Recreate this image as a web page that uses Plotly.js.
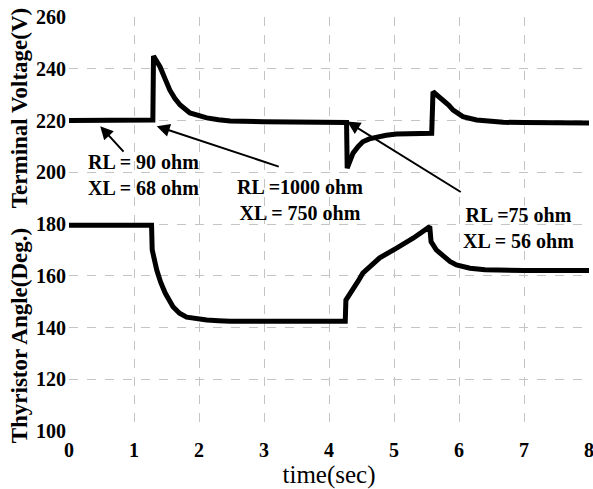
<!DOCTYPE html>
<html>
<head>
<meta charset="utf-8">
<script src="https://cdn.plot.ly/plotly-3.0.1.min.js"></script>
<style>html,body{margin:0;padding:0;background:#fff;}#chart{width:593px;height:489px;}</style>
</head>
<body>
<div id="chart"></div>
<script>
// Terminal voltage (V) vs time (sec)
var timeVoltage = [0, 1.29, 1.30, 1.35, 1.4, 1.48, 1.55, 1.63, 1.71, 1.86, 2.0, 2.12, 2.3, 2.48, 3.0, 3.5, 4.0, 4.27, 4.28, 4.32, 4.37, 4.45, 4.52, 4.62, 4.74, 4.88, 5.04, 5.3, 5.58, 5.6, 5.68, 5.76, 5.84, 5.91, 6.06, 6.27, 6.5, 6.68, 7, 7.5, 8];
var voltage = [220, 220.2, 244.9, 243, 240.8, 236, 231.8, 228.5, 226, 222.9, 221.8, 221, 220.3, 219.8, 219.5, 219.4, 219.3, 219.2, 201.6, 204.5, 207.4, 210, 211.8, 212.9, 213.7, 214.3, 214.8, 215, 215.1, 231.1, 229.5, 228, 226, 224, 221.5, 220.2, 219.6, 219.3, 219.2, 219.1, 219];

// Thyristor angle (Deg.) vs time (sec)
var timeAngle = [0, 1.27, 1.28, 1.32, 1.35, 1.41, 1.48, 1.6, 1.7, 1.81, 2.0, 2.12, 2.3, 2.48, 3.0, 3.5, 4.0, 4.25, 4.26, 4.30, 4.37, 4.45, 4.52, 4.65, 4.78, 5.04, 5.3, 5.55, 5.57, 5.65, 5.76, 5.86, 5.96, 6.17, 6.4, 7, 8];
var angle = [179.5, 179.5, 170, 165, 162.2, 157.5, 153.3, 148, 145.5, 144, 143.2, 142.9, 142.6, 142.4, 142.4, 142.4, 142.4, 142.4, 150.6, 152, 154.5, 158, 161, 164, 166.9, 170.7, 174.6, 179, 173.2, 170, 167.4, 165.5, 164.2, 162.9, 162.3, 162, 162];

var xTicks = [0, 1, 2, 3, 4, 5, 6, 7, 8];
var yTicks = [100, 120, 140, 160, 180, 200, 220, 240, 260];

// Annotation labels: text, text position, arrow tail, arrow head
var loadLabels = ["RL = 90 ohm<br>XL = 68 ohm", "RL =1000 ohm<br>XL = 750 ohm", "RL =75 ohm<br>XL = 56 ohm"];
var labelX = [1.14, 3.55, 6.92];
var labelY = [198.9, 189.3, 178.5];
var arrowTailX = [0.86, 3.25, 6.05];
var arrowTailY = [207.4, 202, 192];
var arrowHeadX = [0.48, 1.35, 4.28];
var arrowHeadY = [217.8, 217.8, 219.6];

var serif = "Liberation Serif, Times New Roman, serif";

var traces = [
  {x: timeVoltage, y: voltage, mode: "lines", line: {color: "#000", width: 5}, hoverinfo: "skip"},
  {x: timeAngle, y: angle, mode: "lines", line: {color: "#000", width: 5}, hoverinfo: "skip"}
];

var annotations = [];
for (var i = 0; i < loadLabels.length; i++) {
  annotations.push({
    x: labelX[i], y: labelY[i], xref: "x", yref: "y", text: "<b>" + loadLabels[i] + "</b>",
    showarrow: false, font: {family: serif, size: 20, color: "#000"}, align: "center"
  });
  annotations.push({
    x: arrowHeadX[i], y: arrowHeadY[i], ax: arrowTailX[i], ay: arrowTailY[i],
    xref: "x", yref: "y", axref: "x", ayref: "y", text: "", showarrow: true,
    arrowhead: 2, arrowsize: 1.3, arrowwidth: 2, arrowcolor: "#000"
  });
}
annotations.push({
  xref: "paper", yref: "y", x: -0.096, y: 224.8, text: "<b>Terminal Voltage(V)</b>",
  textangle: -90, showarrow: false, font: {family: serif, size: 23, color: "#000"}, xanchor: "center", yanchor: "middle"
});
annotations.push({
  xref: "paper", yref: "y", x: -0.096, y: 137, text: "<b>Thyristor Angle(Deg.)</b>",
  textangle: -90, showarrow: false, font: {family: serif, size: 23, color: "#000"}, xanchor: "center", yanchor: "middle"
});

var layout = {
  width: 593, height: 489,
  margin: {l: 69, r: 4, t: 17, b: 58},
  paper_bgcolor: "#fff", plot_bgcolor: "#fff",
  showlegend: false,
  xaxis: {
    range: [0, 8], tickvals: xTicks, ticktext: xTicks.map(function(v){return "<b>" + v + "</b>";}),
    showgrid: true, gridcolor: "#c4c4c4", griddash: "dash", gridwidth: 1,
    zeroline: false, showline: false, ticks: "", ticklabeloverflow: "allow", ticklabelstandoff: 5,
    tickfont: {family: serif, size: 20, color: "#000"},
    title: {text: "time(sec)", font: {family: serif, size: 25, color: "#000"}, standoff: 10}
  },
  yaxis: {
    range: [100, 260], tickvals: yTicks, ticktext: yTicks.map(function(v){return "<b>" + v + "</b>";}),
    showgrid: true, gridcolor: "#c4c4c4", griddash: "dash", gridwidth: 1,
    zeroline: false, showline: false, ticks: "", ticklabeloverflow: "allow", ticklabelstandoff: 2,
    tickfont: {family: serif, size: 20, color: "#000"}
  },
  annotations: annotations
};

Plotly.newPlot("chart", traces, layout, {staticPlot: true, displayModeBar: false});
</script>
</body>
</html>
